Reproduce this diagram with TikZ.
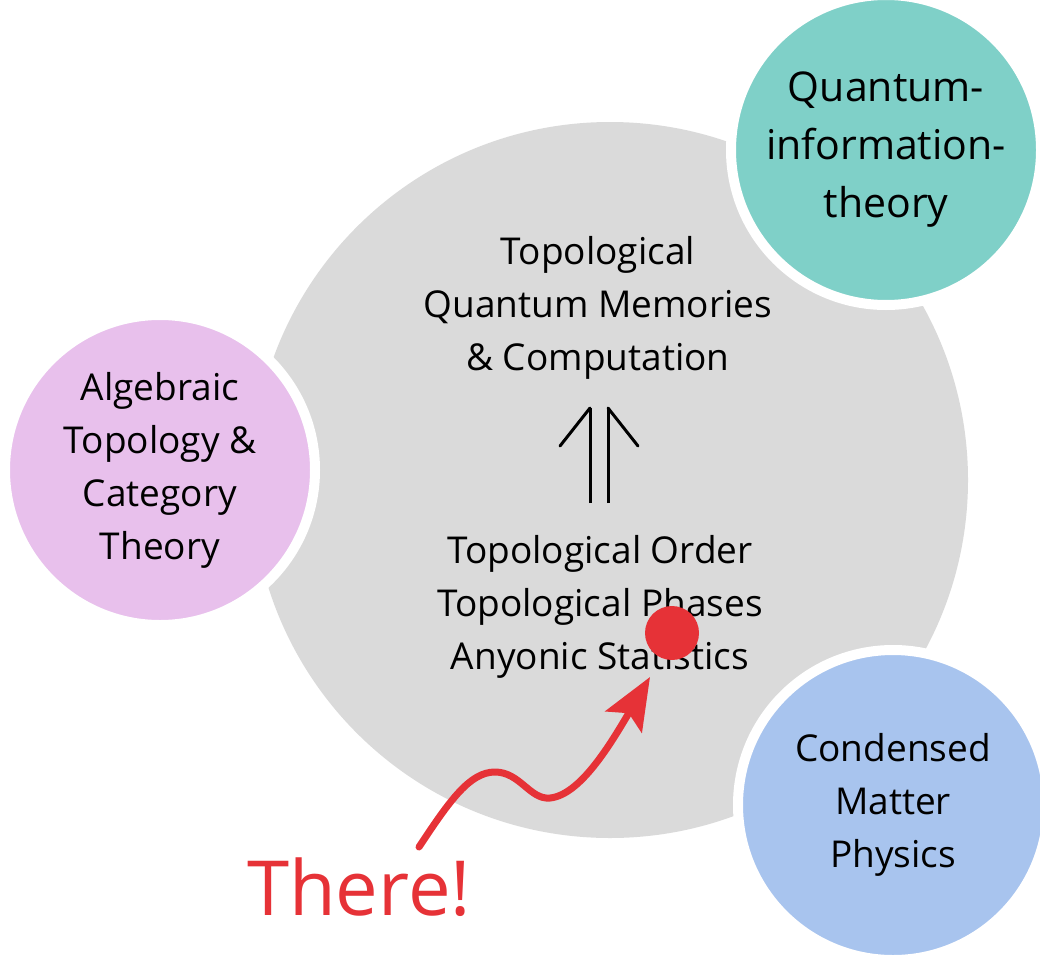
\documentclass[tikz,border=0pt]{standalone}
\usepackage{fontspec}
\setmainfont{Open Sans}
\usepackage{xcolor}
\usepackage{tikz}
\usetikzlibrary{arrows.meta,positioning,calc}
\definecolor{coregrey}{RGB}{218,218,218}
\definecolor{pinkcol}{RGB}{232,192,236}
\definecolor{tealcol}{RGB}{127,208,200}
\definecolor{bluecol}{RGB}{168,196,238}
\definecolor{redcol}{RGB}{230,50,55}

\begin{document}
\begin{tikzpicture}[x=1pt,y=-1pt,
      field/.style={circle,minimum size=310pt,inner sep=0pt,align=center,draw=white,line width=10pt,
        font=\fontsize{37}{53}\selectfont},
      label/.style={align=center,font=\fontsize{37}{53}\selectfont},
      shaft/.style={line width=3pt,line cap=butt}
    ]
      \useasboundingbox (0,0) rectangle (1040,955);
      % Big grey circle
      \node[circle,fill=coregrey,minimum size=716pt,inner sep=0pt] (core) at (610,480) {};
      % Surrounding fields
      \node[field,fill=pinkcol] (alg) at (160,470) {Algebraic\\Topology \&\\Category\\Theory};
      \node[field,fill=tealcol,font=\fontsize{41}{58}\selectfont] (qit) at (886,150) {Quantum-\\information-\\theory};
      \node[field,fill=bluecol] (cmp) at (893,805) {Condensed\\Matter\\Physics};
      % Texts inside the grey circle
      \node[label] (memo) at (598,308) {Topological\\Quantum Memories\\\& Computation};
      \node[label] (order) at (600,607) {Topological Order\\Topological Phases\\Anyonic Statistics};
      % Double arrow (implies)
      \coordinate (footL) at (590,503);
      \coordinate (footR) at (608,503);
      \coordinate (headL) at (590,408);
      \coordinate (headR) at (608,408);
      \draw[shaft] (footL) -- (headL);
      \draw[shaft] (footR) -- (headR);
      \draw[shaft,line cap=round] (headL) -- ++(-30,38);
      \draw[shaft,line cap=round] (headR) -- ++(30,38);
      % Red marker and pointer
      \fill[redcol] (672,633) circle (27);
      \node[redcol,anchor=base west,font=\fontsize{76}{90}\selectfont,inner sep=0pt] (there) at (247,915) {There!};
      \coordinate (start) at (419,847);
      \coordinate (aim) at (650,677);
      \draw[redcol,line width=7pt,line cap=round,-{Stealth[length=52pt,width=42pt,inset=10pt]}]
        (start) .. controls (450,800) and (470,772) .. (495,772)
        .. controls (520,772) and (530,800) .. (550,798)
        .. controls (580,795) and (610,745) .. (aim);
    \end{tikzpicture}
\end{document}
